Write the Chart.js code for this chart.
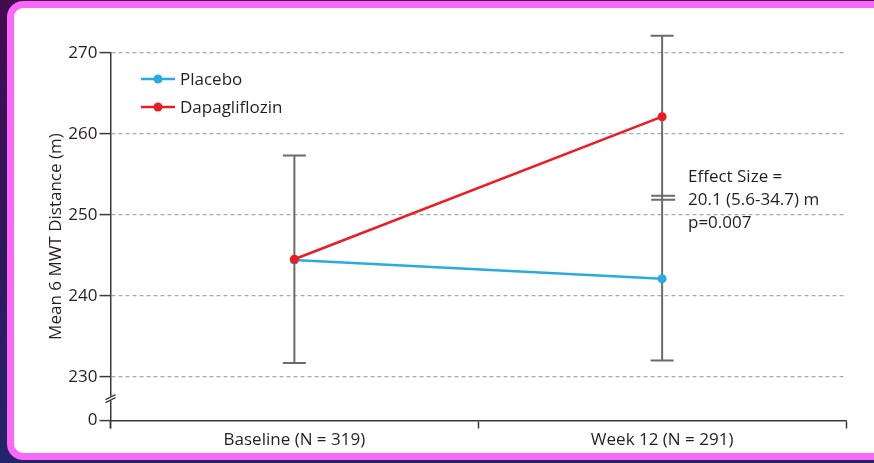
<!DOCTYPE html>
<html>
<head>
<meta charset="utf-8">
<script src="https://cdn.jsdelivr.net/npm/chart.js@4/dist/chart.umd.min.js"></script>
<style>
  html, body { margin: 0; padding: 0; }
  body { width: 874px; height: 463px; overflow: hidden; position: relative;
         background: linear-gradient(180deg, #420c4e 0%, #2c1a5c 60%, #23256a 100%); }
  #frame { position: absolute; left: 7px; top: 1px; width: 880px; height: 445px;
           background: #ffffff; border: 7px solid #fb66fb; border-radius: 16px; }
  #wrap { position: absolute; left: 0; top: 0; width: 874px; height: 463px; }
</style>
</head>
<body>
<div id="frame"></div>
<div id="wrap"><canvas id="c" width="874" height="463"></canvas></div>
<script>
// ---- data ----
const categories = ['Baseline (N = 319)', 'Week 12 (N = 291)'];
const placebo = [244.4, 242.1];
const dapagliflozin = [244.5, 262.1];
const errLow = [231.7, 232.0];
const errHigh = [257.3, 272.1];
const yTickValues = [224.6, 230, 240, 250, 260, 270];   // 224.6 = broken-axis position of "0"
const yTickLabels = ['0', '230', '240', '250', '260', '270'];
const effectText = ['Effect Size =', '20.1 (5.6-34.7) m', 'p=0.007'];
const effectMarkValue = 252.1;
const seriesNames = ['Placebo', 'Dapagliflozin'];
const seriesColors = ['#29abe2', '#ed1c24'];

const FONT = '"Open Sans", "Liberation Sans", sans-serif';
const TEXT = '#231f20';
const AXIS = '#3a3a3a';
const BAR = '#6b6b6b';

const extras = {
  id: 'extras',
  beforeDatasetsDraw(chart) {
    const {ctx} = chart;
    const x = chart.scales.x, y = chart.scales.y;
    ctx.save();
    ctx.strokeStyle = BAR;
    ctx.lineWidth = 2;
    for (let i = 0; i < categories.length; i++) {
      const px = x.getPixelForValue(i);
      const t = y.getPixelForValue(errHigh[i]);
      const b = y.getPixelForValue(errLow[i]);
      ctx.beginPath();
      ctx.moveTo(px, t); ctx.lineTo(px, b);
      ctx.moveTo(px - 11.5, t); ctx.lineTo(px + 11.5, t);
      ctx.moveTo(px - 11.5, b); ctx.lineTo(px + 11.5, b);
      ctx.stroke();
    }
    // effect-size "=" mark on week 12 bar
    const px = x.getPixelForValue(1);
    const my = y.getPixelForValue(effectMarkValue);
    ctx.beginPath();
    ctx.moveTo(px - 11, my - 2); ctx.lineTo(px + 13, my - 2);
    ctx.moveTo(px - 11, my + 2); ctx.lineTo(px + 13, my + 2);
    ctx.stroke();
    ctx.restore();
  },
  afterDraw(chart) {
    const {ctx, chartArea} = chart;
    const y = chart.scales.y;
    const ax = chartArea.left;
    ctx.save();
    // axis extension below x axis
    ctx.strokeStyle = AXIS;
    ctx.lineWidth = 1.5;
    ctx.beginPath();
    ctx.moveTo(ax, chartArea.bottom); ctx.lineTo(ax, chartArea.bottom + 8);
    ctx.stroke();
    // axis break mark
    const by = (y.getPixelForValue(yTickValues[0]) + y.getPixelForValue(yTickValues[1])) / 2;
    ctx.fillStyle = '#ffffff';
    ctx.fillRect(ax - 2, by - 2, 4, 4);
    ctx.lineWidth = 1.3;
    ctx.beginPath();
    ctx.moveTo(ax - 5, by + 1); ctx.lineTo(ax + 5, by - 4);
    ctx.moveTo(ax - 5, by + 4); ctx.lineTo(ax + 5, by - 1);
    ctx.stroke();
    // legend
    ctx.font = '17px ' + FONT;
    ctx.textBaseline = 'middle';
    ctx.textAlign = 'left';
    const ly = [79, 107];
    for (let i = 0; i < seriesNames.length; i++) {
      ctx.strokeStyle = seriesColors[i];
      ctx.fillStyle = seriesColors[i];
      ctx.lineWidth = 2.5;
      ctx.beginPath();
      ctx.moveTo(141, ly[i]); ctx.lineTo(175, ly[i]);
      ctx.stroke();
      ctx.beginPath();
      ctx.arc(158, ly[i], 4.5, 0, Math.PI * 2);
      ctx.fill();
      ctx.fillStyle = TEXT;
      ctx.fillText(seriesNames[i], 180, ly[i] + 1);
    }
    // effect size text
    const ty = [177, 200, 223];
    for (let i = 0; i < effectText.length; i++) {
      ctx.fillText(effectText[i], 688, ty[i]);
    }
    ctx.restore();
  }
};

new Chart(document.getElementById('c'), {
  type: 'line',
  data: {
    labels: categories,
    datasets: [
      { label: seriesNames[0], data: placebo, borderColor: seriesColors[0], backgroundColor: seriesColors[0],
        borderWidth: 2.5, pointRadius: 4.5, pointHoverRadius: 4.5, pointBorderWidth: 0, order: 1, clip: false },
      { label: seriesNames[1], data: dapagliflozin, borderColor: seriesColors[1], backgroundColor: seriesColors[1],
        borderWidth: 2.5, pointRadius: 4.5, pointHoverRadius: 4.5, pointBorderWidth: 0, order: 0, clip: false }
    ]
  },
  options: {
    responsive: false,
    animation: false,
    events: [],
    layout: { padding: { left: 46, top: 52.7, right: 28, bottom: 0 } },
    plugins: { legend: { display: false }, tooltip: { enabled: false } },
    scales: {
      x: {
        type: 'category',
        offset: true,
        grid: { offset: true, drawOnChartArea: false, tickLength: 8, tickColor: AXIS, tickWidth: 1.5 },
        border: { color: AXIS, width: 1.5 },
        ticks: { color: TEXT, font: { family: FONT, size: 17 }, padding: 1, maxRotation: 0 },
        afterFit(s) { s.height = 42.5; }
      },
      y: {
        type: 'linear',
        min: yTickValues[0],
        max: yTickValues[yTickValues.length - 1],
        afterBuildTicks(s) { s.ticks = yTickValues.map(v => ({ value: v })); },
        grid: {
          color: c => (c.tick && c.tick.value === yTickValues[0]) ? 'rgba(0,0,0,0)' : '#a9a9a9',
          lineWidth: 1.2,
          tickLength: 11, tickColor: AXIS, tickWidth: 1.5, tickBorderDash: []
        },
        border: { color: AXIS, width: 1.5, dash: [4, 3] },
        ticks: {
          color: TEXT, font: { family: FONT, size: 17 }, padding: 2,
          callback: (v, i) => yTickLabels[i]
        },
        title: { display: true, text: 'Mean 6 MWT Distance (m)', color: TEXT,
                 font: { family: FONT, size: 17 }, padding: 0 },
        afterFit(s) { s.width = 64.5; }
      }
    }
  },
  plugins: [extras]
});
</script>
</body>
</html>
